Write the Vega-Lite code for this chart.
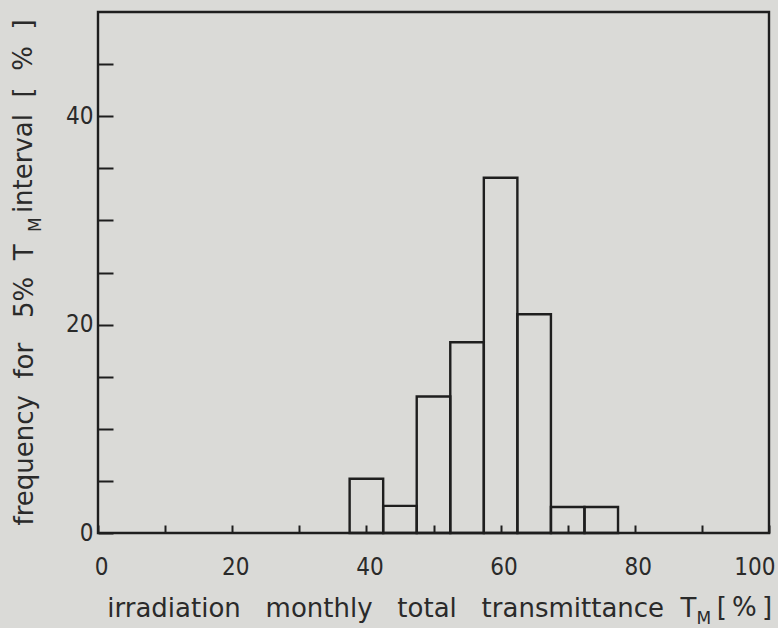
{
  "$schema": "https://vega.github.io/schema/vega-lite/v6.json",
  "width": 671,
  "height": 521,
  "autosize": {"type": "none"},
  "padding": {"left": 98, "top": 12, "right": 9, "bottom": 95},
  "background": "#dadad7",
  "config": {
    "view": {"stroke": "#1e1e1e", "strokeWidth": 2.4, "fill": null},
    "font": "DejaVu Sans",
    "axis": {
      "domain": false,
      "grid": false,
      "tickColor": "#1e1e1e",
      "tickWidth": 2,
      "labelFont": "DejaVu Sans Condensed",
      "labelColor": "#2a2a2a",
      "labelFontSize": 24,
      "titleFont": "DejaVu Sans",
      "titleColor": "#2a2a2a",
      "titleFontWeight": "normal"
    }
  },
  "layer": [
    {
      "data": {
        "values": [
          {"t_start": 37.5, "t_end": 42.5, "freq": 5.2},
          {"t_start": 42.5, "t_end": 47.5, "freq": 2.6},
          {"t_start": 47.5, "t_end": 52.5, "freq": 13.1},
          {"t_start": 52.5, "t_end": 57.5, "freq": 18.3},
          {"t_start": 57.5, "t_end": 62.5, "freq": 34.1},
          {"t_start": 62.5, "t_end": 67.5, "freq": 21.0},
          {"t_start": 67.5, "t_end": 72.5, "freq": 2.5},
          {"t_start": 72.5, "t_end": 77.5, "freq": 2.5}
        ]
      },
      "mark": {"type": "rect", "fill": null, "stroke": "#1e1e1e", "strokeWidth": 2.4},
      "encoding": {
        "x": {
          "field": "t_start",
          "type": "quantitative",
          "scale": {"domain": [0, 100], "nice": false},
          "axis": {
            "values": [0, 10, 20, 30, 40, 50, 60, 70, 80, 90, 100],
            "labelExpr": "datum.value % 20 === 0 ? datum.label : ''",
            "tickSize": -8,
            "labelPadding": 30,
            "labelFlush": false,
            "labelAlign": {"condition": {"test": "datum.value === 100", "value": "right"}, "value": "center"},
            "labelOffset": {"condition": {"test": "datum.value === 100", "value": 6}, "value": 3},
            "title": "irradiation\u00a0\u00a0\u00a0monthly\u00a0\u00a0\u00a0total\u00a0\u00a0\u00a0transmittance\u00a0\u00a0T",
            "titleFontSize": 26,
            "titleX": 598,
            "titleY": 83,
            "titleAlign": "right",
            "titleBaseline": "alphabetic"
          }
        },
        "x2": {"field": "t_end"},
        "y": {
          "field": "freq",
          "type": "quantitative",
          "scale": {"domain": [0, 50], "nice": false},
          "axis": {
            "values": [0, 5, 10, 15, 20, 25, 30, 35, 40, 45],
            "labelExpr": "datum.value % 20 === 0 ? datum.label : ''",
            "tickSize": -15,
            "labelPadding": 20,
            "title": "frequency\u00a0\u00a0for\u00a0\u00a0\u00a05%\u00a0\u00a0T",
            "titleFontSize": 26,
            "titleAngle": -90,
            "titleX": -66,
            "titleY": 513,
            "titleAlign": "left",
            "titleBaseline": "alphabetic"
          }
        },
        "y2": {"datum": 0}
      }
    },
    {
      "data": {"values": [{}]},
      "mark": {"type": "text", "text": "[\u2009%\u2009]", "fontSize": 26, "fill": "#2a2a2a", "align": "left", "baseline": "alphabetic"},
      "encoding": {"x": {"datum": 92.2}, "y": {"datum": -7.97}}
    },
    {
      "data": {"values": [{}]},
      "mark": {"type": "text", "text": "M", "fontSize": 17, "fill": "#2a2a2a", "align": "center", "baseline": "alphabetic"},
      "encoding": {"x": {"datum": 90.3}, "y": {"datum": -8.73}}
    },
    {
      "data": {"values": [{}]},
      "mark": {"type": "text", "text": "interval\u00a0\u00a0[\u00a0\u00a0%\u00a0\u00a0]", "fontSize": 26, "fill": "#2a2a2a", "align": "left", "baseline": "alphabetic", "angle": 270},
      "encoding": {"x": {"datum": -9.84}, "y": {"datum": 30.7}}
    },
    {
      "data": {"values": [{}]},
      "mark": {"type": "text", "text": "M", "fontSize": 17, "fill": "#2a2a2a", "align": "center", "baseline": "alphabetic", "angle": 270},
      "encoding": {"x": {"datum": -8.5}, "y": {"datum": 29.6}}
    }
  ]
}
